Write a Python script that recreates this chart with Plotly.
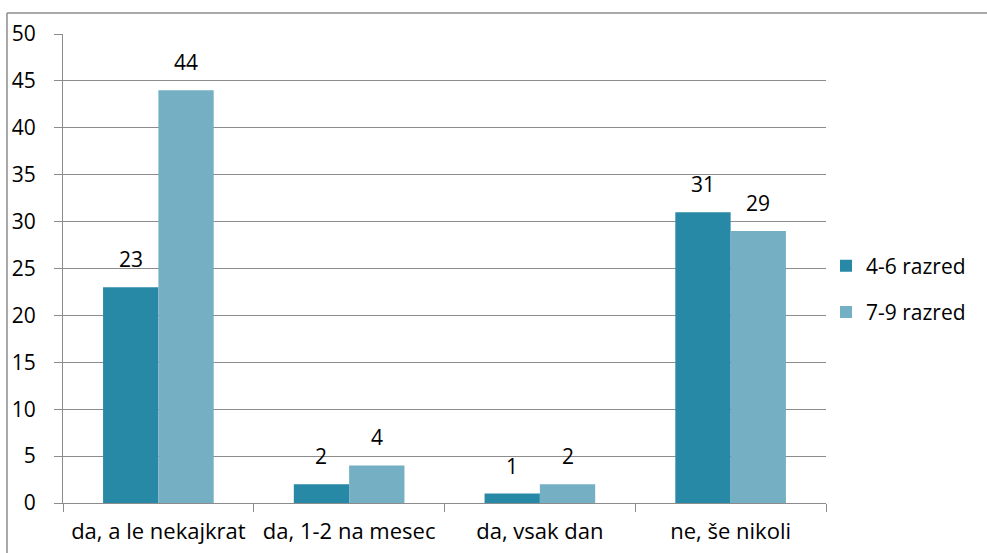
import plotly.graph_objects as go

# categories and values
kategorije = ["da, a le nekajkrat", "da, 1-2 na mesec", "da, vsak dan", "ne, še nikoli"]
razred_4_6 = [23, 2, 1, 31]
razred_7_9 = [44, 4, 2, 29]
y_ticks = [0, 5, 10, 15, 20, 25, 30, 35, 40, 45, 50]

fnt = dict(family="Open Sans, Noto Sans, sans-serif", size=21, color="#000000")

fig = go.Figure()
fig.add_trace(go.Bar(x=kategorije, y=razred_4_6, name="4-6 razred", legendgroup="a",
                     marker=dict(color="#2889A6", line=dict(width=0))))
fig.add_trace(go.Bar(x=kategorije, y=razred_7_9, name="7-9 razred", legendgroup="b",
                     marker=dict(color="#74AFC3", line=dict(width=0))))

# value labels above each bar
for serija, pomik in ((razred_4_6, -27.7), (razred_7_9, 27.7)):
    for kat, v in zip(kategorije, serija):
        fig.add_annotation(x=kat, y=v, text=str(v), showarrow=False, font=fnt,
                           xshift=pomik, yshift=28, yanchor="middle")

fig.update_layout(
    width=987, height=553,
    margin=dict(l=63, r=161, t=34, b=50, autoexpand=False),
    paper_bgcolor="white", plot_bgcolor="white",
    barmode="group", bargap=0.42, bargroupgap=0,
    font=fnt,
    legend=dict(x=1.0, y=0.456, yanchor="middle", xanchor="left",
                font=fnt, itemwidth=30, tracegroupgap=16),
)
fig.update_xaxes(showgrid=False, showline=True, linecolor="#8c8c8c", linewidth=1,
                 ticks="outside", tickson="boundaries", ticklen=8, tickcolor="#8c8c8c",
                 tickfont=dict(family=fnt["family"], size=22, color="#000000"),
                 ticklabelstandoff=9, automargin=False)
fig.update_yaxes(range=[0, 50], tickvals=y_ticks, showgrid=True, gridcolor="#8c8c8c",
                 gridwidth=1, showline=True, linecolor="#8c8c8c", linewidth=1,
                 ticks="outside", ticklen=8, tickcolor="#8c8c8c", tickfont=fnt,
                 zeroline=False, ticklabelstandoff=14, automargin=False)

# outer chart border (top and left edges visible)
fig.add_shape(type="line", xref="paper", yref="paper", x0=-0.0734, x1=1.3,
              y0=1.0448, y1=1.0448, line=dict(color="#8c8c8c", width=1.5))
fig.add_shape(type="line", xref="paper", yref="paper", x0=-0.0734, x1=-0.0734,
              y0=1.0448, y1=-0.2, line=dict(color="#8c8c8c", width=1.5))

fig.write_html("out.html", config={"displayModeBar": False},
               post_script="document.body.style.margin='0';")
